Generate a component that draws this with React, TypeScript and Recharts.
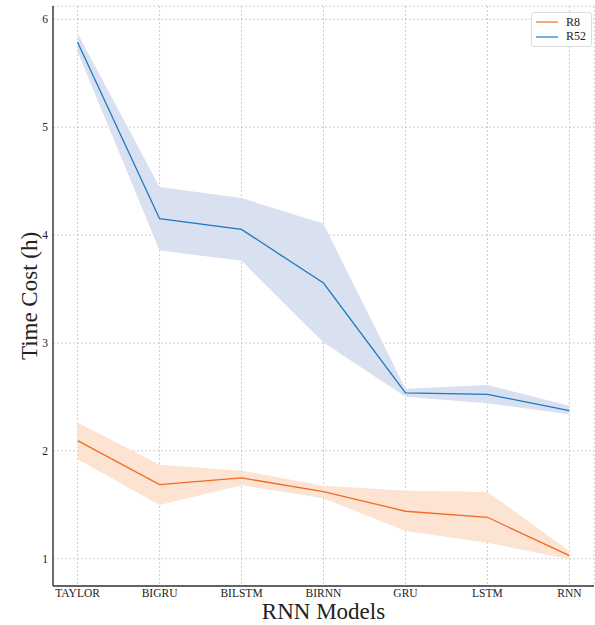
import {
  ComposedChart, Line, Area, XAxis, YAxis, CartesianGrid, Legend, Label
} from 'recharts';

const models = ['TAYLOR', 'BIGRU', 'BILSTM', 'BIRNN', 'GRU', 'LSTM', 'RNN'];

// R8 mean and band
const r8Mean = [2.095, 1.686, 1.749, 1.622, 1.44, 1.384, 1.028];
const r8Low = [1.922, 1.498, 1.681, 1.56, 1.257, 1.148, 0.995];
const r8High = [2.262, 1.872, 1.816, 1.677, 1.631, 1.619, 1.071];

// R52 mean and band
const r52Mean = [5.787, 4.151, 4.052, 3.555, 2.537, 2.523, 2.373];
const r52Low = [5.7, 3.857, 3.762, 3.004, 2.5, 2.44, 2.34];
const r52High = [5.87, 4.445, 4.343, 4.105, 2.575, 2.61, 2.417];

const yTicks = [1, 2, 3, 4, 5, 6];
const yMinorTicks = [0.8, 1.2, 1.4, 1.6, 1.8, 2.2, 2.4, 2.6, 2.8, 3.2, 3.4, 3.6, 3.8, 4.2, 4.4, 4.6, 4.8, 5.2, 5.4, 5.6, 5.8, 6.0];
const xTicks = [0, 1, 2, 3, 4, 5, 6];
const xMinorTicks = [-0.2, 0.2, 0.4, 0.6, 0.8, 1.2, 1.4, 1.6, 1.8, 2.2, 2.4, 2.6, 2.8, 3.2, 3.4, 3.6, 3.8, 4.2, 4.4, 4.6, 4.8, 5.2, 5.4, 5.6, 5.8, 6.2];

const ORANGE = '#f26a24';
const BLUE = '#1a7bc4';
const FONT = '"Liberation Serif", "DejaVu Serif", serif';

const data = models.map((m, i) => ({
  x: i,
  r8: r8Mean[i],
  r8Band: [r8Low[i], r8High[i]],
  r52: r52Mean[i],
  r52Band: [r52Low[i], r52High[i]],
}));

const X_DOMAIN = [-0.3, 6.3];
const Y_DOMAIN = [0.747, 6.123];

function LegendBox() {
  const items = [
    { name: 'R8', color: ORANGE },
    { name: 'R52', color: BLUE },
  ];
  return (
    <div style={{
      background: 'rgba(255,255,255,0.85)',
      border: '1px solid #ddd',
      borderRadius: 3,
      padding: '2px 5px 2px 4px',
      fontFamily: FONT,
      fontSize: 12,
      color: '#222',
      boxSizing: 'border-box',
    }}>
      {items.map(it => (
        <div key={it.name} style={{ display: 'flex', alignItems: 'center', height: 14.5 }}>
          <span style={{ display: 'inline-block', width: 22, height: 0, borderTop: `2px solid ${it.color}`, opacity: 0.6, marginRight: 8 }} />
          <span>{it.name}</span>
        </div>
      ))}
    </div>
  );
}

export default function App() {
  return (
    <div style={{ position: 'absolute', left: 0, top: 0, background: '#fff' }}>
      <ComposedChart width={595} height={625} data={data} margin={{ top: 6, right: 1, left: 0, bottom: 0 }}>
        <CartesianGrid stroke="#b8b8b8" strokeDasharray="2 2" strokeWidth={0.7} />
        <XAxis
          dataKey="x"
          type="number"
          domain={X_DOMAIN}
          ticks={xTicks}
          allowDataOverflow
          tickFormatter={(v: number) => models[v] ?? ''}
          tickLine={false}
          tickSize={0}
          axisLine={{ stroke: '#333', strokeWidth: 1.4 }}
          height={39}
          tickMargin={3}
          tick={{ fontFamily: FONT, fontSize: 11.5, fill: '#222' }}
        >
          <Label value="RNN Models" position="insideBottom" offset={6} style={{ fontFamily: FONT, fontSize: 23, fill: '#222' }} />
        </XAxis>
        <YAxis
          type="number"
          domain={Y_DOMAIN}
          ticks={yTicks}
          allowDataOverflow
          tickLine={false}
          tickSize={0}
          axisLine={{ stroke: '#333', strokeWidth: 1.4 }}
          width={53}
          tickMargin={5}
          tick={{ fontFamily: FONT, fontSize: 11.5, fill: '#222' }}
        >
          <Label value="Time Cost (h)" angle={-90} position="insideLeft" offset={29} style={{ fontFamily: FONT, fontSize: 23, fill: '#222', textAnchor: 'middle' }} />
        </YAxis>

        {/* inward ticks on all four sides */}
        <XAxis xAxisId="bmaj" type="number" domain={X_DOMAIN} allowDataOverflow orientation="bottom" mirror height={0} ticks={xTicks} tick={false} tickSize={5} axisLine={false} tickLine={{ stroke: '#333' }} />
        <XAxis xAxisId="bmin" type="number" domain={X_DOMAIN} allowDataOverflow orientation="bottom" mirror height={0} ticks={xMinorTicks} tick={false} tickSize={3} axisLine={false} tickLine={{ stroke: '#333' }} />
        <XAxis xAxisId="tmaj" type="number" domain={X_DOMAIN} allowDataOverflow orientation="top" mirror height={0} ticks={xTicks} tick={false} tickSize={5} axisLine={{ stroke: '#333', strokeWidth: 1.4 }} tickLine={{ stroke: '#333' }} />
        <XAxis xAxisId="tmin" type="number" domain={X_DOMAIN} allowDataOverflow orientation="top" mirror height={0} ticks={xMinorTicks} tick={false} tickSize={3} axisLine={false} tickLine={{ stroke: '#333' }} />
        <YAxis yAxisId="lmaj" type="number" domain={Y_DOMAIN} allowDataOverflow orientation="left" mirror width={0} ticks={yTicks} tick={false} tickSize={5} axisLine={false} tickLine={{ stroke: '#333' }} />
        <YAxis yAxisId="lmin" type="number" domain={Y_DOMAIN} allowDataOverflow orientation="left" mirror width={0} ticks={yMinorTicks} tick={false} tickSize={3} axisLine={false} tickLine={{ stroke: '#333' }} />
        <YAxis yAxisId="rmaj" type="number" domain={Y_DOMAIN} allowDataOverflow orientation="right" mirror width={0} ticks={yTicks} tick={false} tickSize={5} axisLine={{ stroke: '#333', strokeWidth: 1.4 }} tickLine={{ stroke: '#333' }} />
        <YAxis yAxisId="rmin" type="number" domain={Y_DOMAIN} allowDataOverflow orientation="right" mirror width={0} ticks={yMinorTicks} tick={false} tickSize={3} axisLine={false} tickLine={{ stroke: '#333' }} />

        <Area dataKey="r52Band" type="linear" stroke="none" fill="#d9e0f0" fillOpacity={1} isAnimationActive={false} legendType="none" />
        <Area dataKey="r8Band" type="linear" stroke="none" fill="#fce3d2" fillOpacity={1} isAnimationActive={false} legendType="none" />
        <Line dataKey="r8" name="R8" type="linear" stroke={ORANGE} strokeWidth={1.3} dot={false} isAnimationActive={false} />
        <Line dataKey="r52" name="R52" type="linear" stroke={BLUE} strokeWidth={1.3} dot={false} isAnimationActive={false} />
        <Legend
          content={<LegendBox />}
          verticalAlign="middle"
          align="center"
          layout="vertical"
          wrapperStyle={{ position: 'absolute', top: 12, right: 3, left: 'auto', bottom: 'auto', width: 'auto' }}
        />
      </ComposedChart>
    </div>
  );
}
